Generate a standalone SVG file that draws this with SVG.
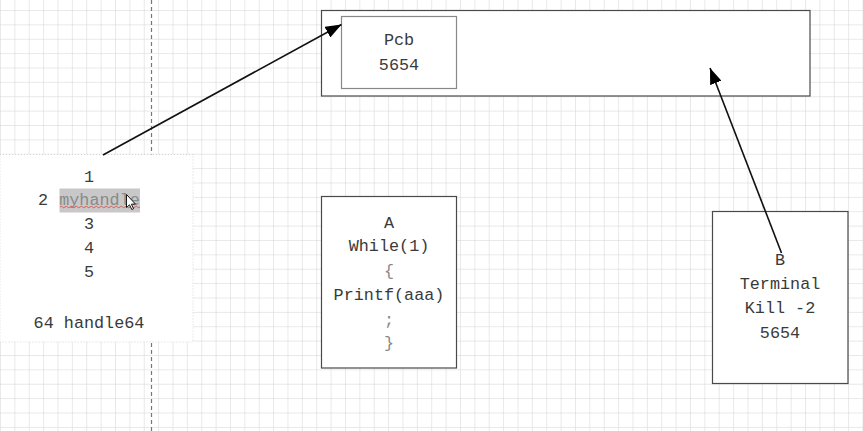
<svg xmlns="http://www.w3.org/2000/svg" width="863" height="431" viewBox="0 0 863 431">
  <defs>
    <pattern id="grid" x="0" y="10" width="14.375" height="14.375" patternUnits="userSpaceOnUse">
      <path d="M0 0H14.375M0 0V14.375" fill="none" stroke="#d2d2d2" stroke-width="1"/>
    </pattern>
    <marker id="arrow" viewBox="0 0 16 12" refX="16" refY="6" markerWidth="16" markerHeight="12" markerUnits="userSpaceOnUse" orient="auto">
      <path d="M0 0L16 6L0 12Z" fill="#000"/>
    </marker>
  </defs>
  <style>
    .t { font-family: "Liberation Mono", "DejaVu Sans Mono", monospace; font-size: 16.8px; fill: #3a3a3a; text-anchor: middle; dominant-baseline: central; }
    .g { fill: #8a8a8a; }
    .box { fill: #fff; stroke: #4a4a4a; stroke-width: 1.2; }
    .inner { fill: #fff; stroke: #888; stroke-width: 1.2; }
    .conn { stroke: #111; stroke-width: 1.6; fill: none; marker-end: url(#arrow); }
  </style>
  <rect width="863" height="431" fill="#fff"/>
  <rect width="863" height="431" fill="url(#grid)"/>
  <line x1="151.5" y1="0" x2="151.5" y2="431" stroke="#777" stroke-width="1.2" stroke-dasharray="4,3"/>

  <g id="list-panel">
    <rect x="0" y="154.5" width="193" height="187.5" fill="#fff" stroke="#d4d4d4" stroke-dasharray="1,2"/>
    <text class="t" x="89" y="177">1</text>
    <text class="t" x="43" y="200">2</text>
    <rect x="59.5" y="188.5" width="80.5" height="24" fill="#c8c8c8"/>
    <text class="t g" x="99.5" y="200">myhandle</text>
    <path d="M60 207 q1.25 -1.5 2.5 0 t2.5 0 t2.5 0 t2.5 0 t2.5 0 t2.5 0 t2.5 0 t2.5 0 t2.5 0 t2.5 0 t2.5 0 t2.5 0 t2.5 0 t2.5 0 t2.5 0 t2.5 0 t2.5 0 t2.5 0 t2.5 0 t2.5 0 t2.5 0 t2.5 0 t2.5 0 t2.5 0 t2.5 0 t2.5 0 t2.5 0 t2.5 0 t2.5 0 t2.5 0 t2.5 0 t2.5 0" fill="none" stroke="#e05050" stroke-width="0.9"/>
    <path d="M126.5 194.5 L126.5 207.5 L129.5 204.8 L131.8 209.5 L133.6 208.7 L131.4 204.2 L135.4 204 Z" fill="#fff" stroke="#000" stroke-width="0.9"/>
    <text class="t" x="89" y="224">3</text>
    <text class="t" x="89" y="248">4</text>
    <text class="t" x="89" y="272">5</text>
    <text class="t" x="89" y="323">64 handle64</text>
  </g>

  <g id="pcb-container">
    <rect class="box" x="321.5" y="10.5" width="488.5" height="85.5"/>
  </g>
  <g id="pcb">
    <rect class="inner" x="341.5" y="16.5" width="115" height="72"/>
    <text class="t" x="399" y="40">Pcb</text>
    <text class="t" x="399" y="65">5654</text>
  </g>

  <g id="process-a">
    <rect class="box" x="321.5" y="196.5" width="135" height="171.5"/>
    <text class="t" x="389" y="223">A</text>
    <text class="t" x="389" y="246">While(1)</text>
    <text class="t g" x="389" y="271">{</text>
    <text class="t" x="389" y="295">Printf(aaa)</text>
    <text class="t g" x="389" y="320">;</text>
    <text class="t g" x="389" y="343">}</text>
  </g>

  <g id="process-b">
    <rect class="box" x="712.5" y="211.5" width="135.5" height="172"/>
    <text class="t" x="780" y="260">B</text>
    <text class="t" x="780" y="284">Terminal</text>
    <text class="t" x="780" y="308">Kill -2</text>
    <text class="t" x="780" y="333">5654</text>
  </g>

  <g id="connectors">
    <line class="conn" x1="103" y1="155" x2="341.5" y2="24.5"/>
    <line class="conn" x1="781.5" y1="253" x2="710" y2="68"/>
  </g>
</svg>
